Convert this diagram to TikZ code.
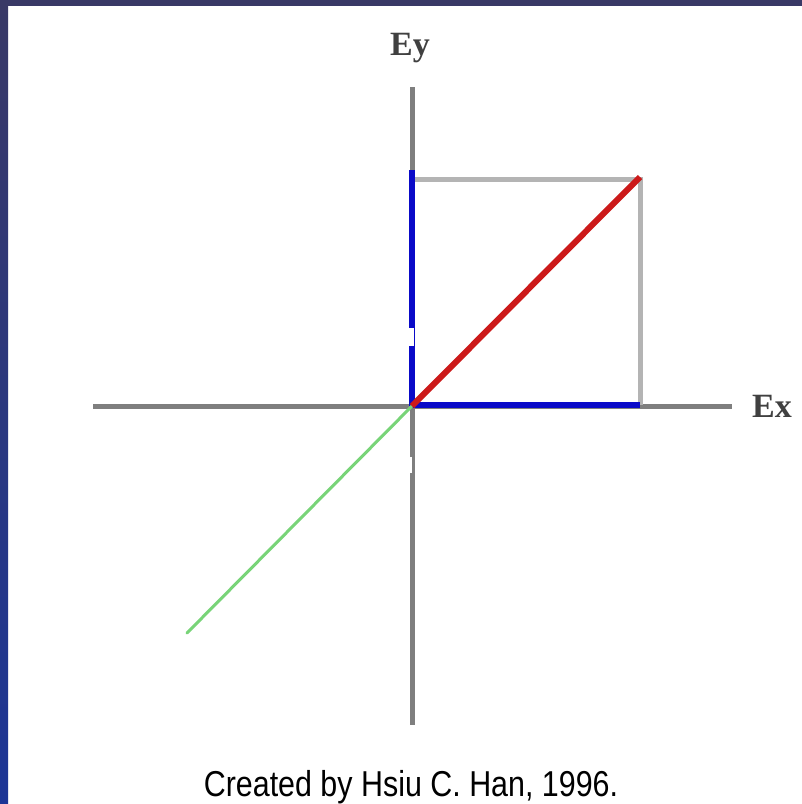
\documentclass[tikz,border=0pt]{standalone}
\usepackage{fontspec}
\setmainfont{Liberation Serif}
\newfontfamily\capfont{Liberation Sans}
\definecolor{barcol}{HTML}{393966}
\definecolor{barlow}{HTML}{1C3596}
\definecolor{axiscol}{HTML}{7F7F7F}
\definecolor{boxcol}{HTML}{B4B4B4}
\definecolor{bluecol}{HTML}{0A0AC8}
\definecolor{redcol}{HTML}{CC1A1A}
\definecolor{greencol}{HTML}{78D478}
\definecolor{labcol}{HTML}{404040}
\tikzset{
  axisline/.style={draw=axiscol, line width=5pt},
  boxline/.style={draw=boxcol, line width=5pt},
  compline/.style={draw=bluecol, line width=6pt},
  resline/.style={draw=redcol, line width=6pt},
  trailline/.style={draw=greencol, line width=3pt},
  axlabel/.style={text=labcol, inner sep=0pt, font=\bfseries\fontsize{34}{40}\selectfont},
}
\begin{document}
\begin{tikzpicture}[x=1pt, y=-1pt]
\useasboundingbox (0,0) rectangle (802,804);
\fill[white] (0,0) rectangle (802,804);
% frame
\shade[top color=barcol, bottom color=barlow] (0,0) rectangle (8,804);
\fill[barcol] (0,0) rectangle (802,6);
% coordinates
\coordinate (O) at (412,406);
\coordinate (xl) at (93,406);
\coordinate (xr) at (732,406);
\coordinate (yt) at (412,87);
\coordinate (yb) at (412,725);
\coordinate (Ytip) at (412,170);
\coordinate (Xtip) at (640,405);
\coordinate (C) at (640,179);
\coordinate (Ob) at (412,405);
\coordinate (R) at (640,177);
\coordinate (G) at (187,633);
% axes
\draw[axisline] (xl) -- (xr);
\draw[axisline] (yt) -- (yb);
% box
\draw[boxline] (412,179) -- (C) -- (Xtip);
% components
\draw[compline] (Ytip) -- (O);
\draw[compline] (Ob) -- (Xtip);
% resultant and trail
\draw[trailline, line cap=round] (O) -- (G);
\draw[resline] (O) -- (R);
% small gaps
\fill[white] (408,328) rectangle (414,346);
\fill[white] (409,457) rectangle (412,473);
% labels
\node[axlabel, anchor=center] (ey) at (410,48) {Ey};
\node[axlabel, anchor=west] (ex) at (752,406) {Ex};
\node[inner sep=0pt, anchor=base, text=black, xscale=0.845, font=\capfont\fontsize{36}{40}\selectfont] (cap) at (411,796) {Created by Hsiu C. Han, 1996.};
\end{tikzpicture}
\end{document}
